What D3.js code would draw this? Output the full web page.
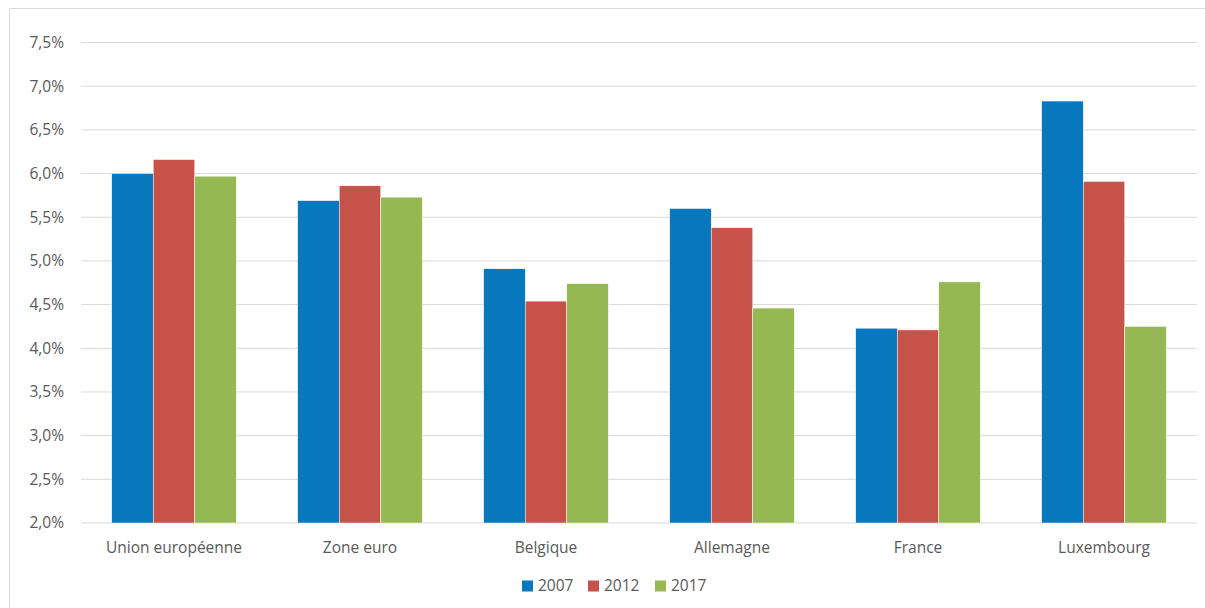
<!DOCTYPE html>
<html>
<head>
<meta charset="utf-8">
<script src="https://cdn.jsdelivr.net/npm/d3@7"></script>
<style>
  body { margin: 0; background: #fff; }
  #chart { width: 1205px; height: 608px; }
  text { font-family: "Open Sans", "Liberation Sans", sans-serif; fill: #595959; }
</style>
</head>
<body>
<div id="chart"></div>
<script>
const categories = ['Union européenne', 'Zone euro', 'Belgique', 'Allemagne', 'France', 'Luxembourg']
const years = ['2007', '2012', '2017']
const values2007 = [6.00, 5.69, 4.91, 5.60, 4.23, 6.83]
const values2012 = [6.16, 5.86, 4.54, 5.38, 4.21, 5.91]
const values2017 = [5.97, 5.73, 4.74, 4.46, 4.76, 4.25]
const yTicks = [2.0, 2.5, 3.0, 3.5, 4.0, 4.5, 5.0, 5.5, 6.0, 6.5, 7.0, 7.5]
const colors = ['#0777be', '#c6534a', '#95b853']

const series = [values2007, values2012, values2017]

const sWidth = 1205, sHeight = 608
const margin = { top: 42.5, right: 8, bottom: 85, left: 81 }
const width = sWidth - margin.left - margin.right
const height = sHeight - margin.top - margin.bottom

const svg = d3.select('#chart').append('svg')
  .attr('width', sWidth)
  .attr('height', sHeight)

// outer frame
svg.append('rect')
  .attr('x', 9.5).attr('y', 8.5)
  .attr('width', sWidth).attr('height', sHeight)
  .attr('fill', 'none')
  .attr('stroke', '#d9d9d9')

const g = svg.append('g')
  .attr('transform', 'translate(' + margin.left + ',' + margin.top + ')')

const x = d3.scaleBand()
  .domain(categories)
  .range([0, width])
  .paddingInner(0.33)
  .paddingOuter(0.165)

const xSub = d3.scaleBand()
  .domain(years)
  .range([0, x.bandwidth()])

const y = d3.scaleLinear()
  .domain([2.0, 7.5])
  .range([height, 0])

// gridlines
g.append('g')
  .selectAll('line')
  .data(yTicks)
  .join('line')
    .attr('x1', 0)
    .attr('x2', width)
    .attr('y1', d => y(d))
    .attr('y2', d => y(d))
    .attr('stroke', '#d9d9d9')
    .attr('stroke-width', 1)

// y labels
const fmt = v => v.toFixed(1).replace('.', ',') + '%'
g.append('g')
  .selectAll('text')
  .data(yTicks)
  .join('text')
    .attr('x', -17)
    .attr('y', d => y(d))
    .attr('dy', '0.35em')
    .attr('text-anchor', 'end')
    .style('font-size', '15.5px')
    .text(fmt)

// bars
const groups = g.append('g')
  .selectAll('g')
  .data(categories)
  .join('g')
    .attr('transform', d => 'translate(' + x(d) + ',0)')

groups.selectAll('rect')
  .data((d, i) => years.map((yr, j) => ({ yr: yr, v: series[j][i], c: colors[j] })))
  .join('rect')
    .attr('x', d => xSub(d.yr))
    .attr('width', xSub.bandwidth())
    .attr('y', d => y(d.v))
    .attr('height', d => height - y(d.v))
    .attr('fill', d => d.c)
    .attr('stroke', '#fff')
    .attr('stroke-width', 0.5)

// x labels
g.append('g')
  .selectAll('text')
  .data(categories)
  .join('text')
    .attr('x', d => x(d) + x.bandwidth() / 2)
    .attr('y', height + 25)
    .attr('dy', '0.35em')
    .attr('text-anchor', 'middle')
    .style('font-size', '15.5px')
    .text(d => d)

// legend
const legend = svg.append('g')
  .attr('transform', 'translate(522,586)')
const legendX = [0, 66, 133]
const items = legend.selectAll('g')
  .data(years)
  .join('g')
    .attr('transform', (d, i) => 'translate(' + legendX[i] + ',0)')
items.append('rect')
  .attr('x', 0).attr('y', -5.5)
  .attr('width', 11).attr('height', 11)
  .attr('fill', (d, i) => colors[i])
items.append('text')
  .attr('x', 16)
  .attr('dy', '0.35em')
  .style('font-size', '15.5px')
  .text(d => d)
</script>
</body>
</html>
